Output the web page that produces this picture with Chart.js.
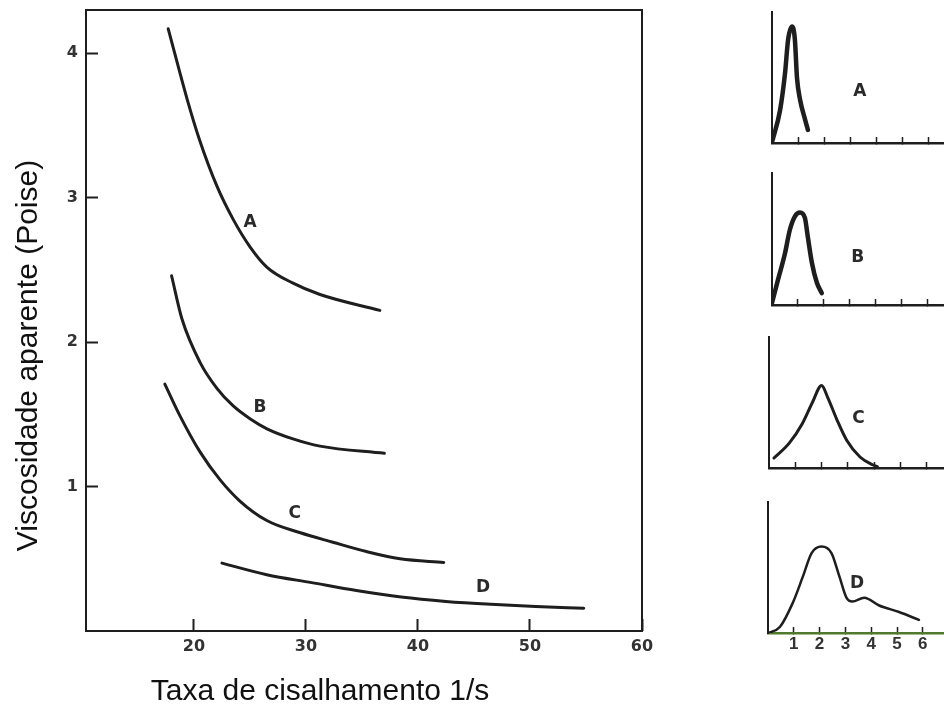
<!DOCTYPE html>
<html>
<head>
<meta charset="utf-8">
<script src="https://cdn.jsdelivr.net/npm/chart.js@4.4.0/dist/chart.umd.min.js"></script>
<style>
  html, body { margin: 0; padding: 0; background: #fff; overflow: hidden; }
  body { width: 944px; height: 705px; position: relative; }
  canvas { position: absolute; }
</style>
</head>
<body>
<canvas id="main" width="700" height="705" style="left:0;top:0"></canvas>
<canvas id="distA"></canvas>
<canvas id="distB"></canvas>
<canvas id="distC"></canvas>
<canvas id="distD"></canvas>
<script>
// apparent viscosity (Poise) against shear rate (1/s), curves A-D
const shearA = [17.7, 19.4, 20.5, 22.05, 23.5, 25.0, 26.5, 28.8, 31.25, 36.6];
const viscA  = [4.17, 3.68, 3.40, 3.08, 2.85, 2.66, 2.52, 2.41, 2.33, 2.22];
const shearB = [18.0, 18.93, 20.54, 22.05, 23.48, 25.0, 26.52, 28.84, 31.25, 37.0];
const viscB  = [2.46, 2.16, 1.86, 1.68, 1.56, 1.47, 1.40, 1.33, 1.28, 1.23];
const shearC = [17.4, 18.75, 20.54, 22.3, 24.1, 26.5, 29.5, 32.4, 35.4, 38.4, 42.3];
const viscC  = [1.71, 1.49, 1.24, 1.05, 0.90, 0.765, 0.68, 0.615, 0.55, 0.50, 0.475];
const shearD = [22.5, 26.5, 30.5, 34.5, 38.5, 42.5, 46.5, 50.5, 54.8];
const viscD  = [0.47, 0.39, 0.335, 0.28, 0.235, 0.205, 0.185, 0.170, 0.158];

const xTickValues = [20, 30, 40, 50, 60];
const yTickValues = [1, 2, 3, 4];

const curveNames = ['A', 'B', 'C', 'D'];
const curveLabelX = [25.0, 25.9, 29.0, 45.8];
const curveLabelY = [2.83, 1.55, 0.81, 0.30];

// size distributions shown beside each curve
const distAx = [0.02, 0.31, 0.5, 0.62, 0.77, 0.88, 0.96, 1.08, 1.27, 1.38];
const distAy = [0.02, 0.25, 0.53, 0.79, 0.89, 0.79, 0.50, 0.33, 0.18, 0.10];
const distBx = [0.0, 0.23, 0.5, 0.69, 0.88, 1.08, 1.27, 1.38, 1.54, 1.73, 1.92];
const distBy = [0.015, 0.19, 0.39, 0.57, 0.67, 0.70, 0.66, 0.52, 0.32, 0.17, 0.09];
const distCx = [0.19, 0.77, 1.27, 1.65, 2.0, 2.23, 2.58, 2.96, 3.46, 3.96, 4.12];
const distCy = [0.076, 0.19, 0.34, 0.50, 0.63, 0.54, 0.37, 0.21, 0.084, 0.023, 0.01];
const distDx = [0.0, 0.46, 0.96, 1.35, 1.69, 2.08, 2.46, 2.77, 3.04, 3.27, 3.73, 4.31, 5.08, 5.85];
const distDy = [0.0, 0.046, 0.23, 0.43, 0.61, 0.66, 0.61, 0.43, 0.27, 0.24, 0.27, 0.21, 0.16, 0.10];
const distTickValues = [1, 2, 3, 4, 5, 6];

const ink = '#1e1e1e';
const tickFont = { family: '"DejaVu Sans"', size: 16, weight: 'bold' };

const toPoints = (xs, ys) => xs.map((x, i) => ({ x, y: ys[i] }));

const curve = (xs, ys, width) => ({
  data: toPoints(xs, ys),
  borderColor: ink,
  borderWidth: width,
  pointRadius: 0,
  cubicInterpolationMode: 'monotone',
  borderCapStyle: 'round',
  fill: false
});

// the label padding below would otherwise push the plot area inwards
const noEdgePadding = s => {
  s.paddingTop = 0;
  s.paddingBottom = 0;
  s.paddingLeft = 0;
  s.paddingRight = 0;
};

// frame, letters on the curves and the two axis titles
const mainDecor = {
  id: 'mainDecor',
  afterDraw(chart) {
    const { ctx, chartArea: a, scales } = chart;
    ctx.save();
    ctx.strokeStyle = ink;
    ctx.lineWidth = 2;
    ctx.strokeRect(a.left, a.top, a.right - a.left, a.bottom - a.top);

    ctx.fillStyle = '#2a2a2a';
    ctx.font = 'bold 17px "DejaVu Sans"';
    ctx.textAlign = 'center';
    ctx.textBaseline = 'middle';
    curveNames.forEach((name, i) => {
      ctx.fillText(name, scales.x.getPixelForValue(curveLabelX[i]), scales.y.getPixelForValue(curveLabelY[i]));
    });

    ctx.fillStyle = '#111';
    ctx.font = '30px "Liberation Sans"';
    ctx.fillText('Taxa de cisalhamento 1/s', a.left + 234, a.bottom + 61);
    ctx.translate(a.left - 57, (a.top + a.bottom) / 2 + 35);
    ctx.rotate(-Math.PI / 2);
    ctx.fillText('Viscosidade aparente (Poise)', 0, 0);
    ctx.restore();
  }
};

new Chart(document.getElementById('main'), {
  type: 'line',
  data: {
    datasets: [
      curve(shearA, viscA, 3),
      curve(shearB, viscB, 3),
      curve(shearC, viscC, 3),
      curve(shearD, viscD, 3)
    ]
  },
  options: {
    responsive: false,
    animation: false,
    layout: { padding: { top: 10, right: 58, left: 0, bottom: 0 } },
    plugins: { legend: { display: false }, tooltip: { enabled: false } },
    scales: {
      x: {
        type: 'linear',
        min: 10.36,
        max: 60,
        afterBuildTicks: s => { s.ticks = xTickValues.map(v => ({ value: v })); },
        afterFit: s => { s.height = 74; noEdgePadding(s); },
        grid: { drawOnChartArea: false, tickLength: -12, tickWidth: 2, tickColor: ink },
        border: { display: false },
        ticks: { font: tickFont, color: '#333', padding: 18, maxRotation: 0 }
      },
      y: {
        min: 0,
        max: 4.3,
        afterBuildTicks: s => { s.ticks = yTickValues.map(v => ({ value: v })); },
        afterFit: s => { s.width = 86; noEdgePadding(s); },
        grid: { drawOnChartArea: false, tickLength: -12, tickWidth: 2, tickColor: ink },
        border: { display: false },
        ticks: { font: tickFont, color: '#333', padding: 20 }
      }
    }
  },
  plugins: [mainDecor]
});

// small distribution panels: where each one sits and how wide one unit is
const panels = [
  { id: 'distA', xs: distAx, ys: distAy, name: 'A', lx: 3.38, ly: 0.39, x0: 772, top: 12, base: 143, unit: 26.0, width: 4.5, labels: false },
  { id: 'distB', xs: distBx, ys: distBy, name: 'B', lx: 3.31, ly: 0.36, x0: 772, top: 173, base: 305, unit: 25.9, width: 4.5, labels: false },
  { id: 'distC', xs: distCx, ys: distCy, name: 'C', lx: 3.40, ly: 0.38, x0: 769, top: 337, base: 468, unit: 26.3, width: 3, labels: false },
  { id: 'distD', xs: distDx, ys: distDy, name: 'D', lx: 3.45, ly: 0.38, x0: 768, top: 502, base: 633, unit: 25.8, width: 2.5, labels: true }
];

panels.forEach(p => {
  const canvas = document.getElementById(p.id);
  const left = p.x0 - 20;
  const below = p.labels ? 30 : 8;
  canvas.width = 944 - left;
  canvas.height = p.base - p.top + 10 + below;
  canvas.style.left = left + 'px';
  canvas.style.top = (p.top - 10) + 'px';

  const letter = {
    id: 'letter',
    afterDraw(chart) {
      const { ctx, scales } = chart;
      ctx.save();
      ctx.fillStyle = '#2a2a2a';
      ctx.font = 'bold 17px "DejaVu Sans"';
      ctx.textAlign = 'center';
      ctx.textBaseline = 'middle';
      ctx.fillText(p.name, scales.x.getPixelForValue(p.lx), scales.y.getPixelForValue(p.ly));
      ctx.restore();
    }
  };

  new Chart(canvas, {
    type: 'line',
    data: { datasets: [curve(p.xs, p.ys, p.width)] },
    options: {
      responsive: false,
      animation: false,
      layout: { padding: { top: 10, left: 20, right: 0, bottom: 0 } },
      plugins: { legend: { display: false }, tooltip: { enabled: false } },
      scales: {
        x: {
          type: 'linear',
          min: 0,
          max: (canvas.width - 20) / p.unit,
          afterBuildTicks: s => { s.ticks = distTickValues.map(v => ({ value: v })); },
          afterFit: s => { s.height = below; noEdgePadding(s); },
          grid: { drawOnChartArea: false, tickLength: -6, tickWidth: 1.5, tickColor: ink },
          border: { display: true, color: p.labels ? '#4f7a2c' : ink, width: 2.5 },
          ticks: {
            display: p.labels,
            font: { family: '"Liberation Sans"', size: 17, weight: 'bold' },
            color: '#333',
            padding: 7,
            maxRotation: 0
          }
        },
        y: {
          min: 0,
          max: 1,
          afterFit: s => { s.width = 0; noEdgePadding(s); },
          grid: { display: false },
          border: { display: true, color: ink, width: 2 },
          ticks: { display: false }
        }
      }
    },
    plugins: [letter]
  });
});
</script>
</body>
</html>
